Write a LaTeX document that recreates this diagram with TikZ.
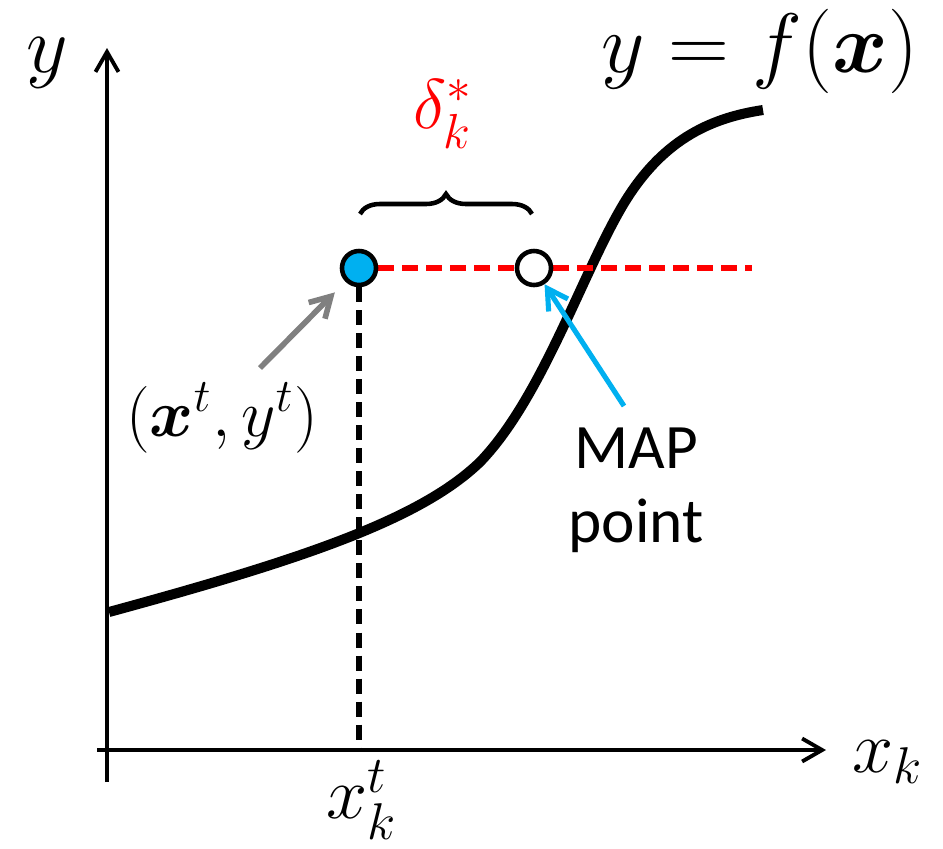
\RequirePackage{fix-cm}
\documentclass[tikz,border=0pt]{standalone}
\usepackage{amsmath,bm}
\usepackage{fontspec}
\setsansfont{Carlito}
\usetikzlibrary{arrows.meta, decorations.pathreplacing, backgrounds, calc}
\definecolor{ptBlue}{RGB}{0,176,240}
\definecolor{lvlRed}{RGB}{255,0,0}
\colorlet{tagGray}{black!50}
\newcommand{\msz}[1]{\fontsize{#1}{#1}\selectfont}

\begin{document}
\begin{tikzpicture}[
  x=0.01cm, y=-0.01cm,
  >={Straight Barb[length=2mm, width=2.3mm]},
  axis/.style={->, line width=1.1pt},
  curve/.style={line width=2.85pt, line join=round},
  level/.style={draw=lvlRed, line width=1.7pt, dash pattern=on 0.16cm off 0.08cm},
  drop/.style={line width=1.5pt, dash pattern=on 0.15cm off 0.08cm},
  dot/.style={circle, draw, line width=1.3pt, minimum size=0.34cm, inner sep=0pt},
  tagArrow/.style={->, line width=1.6pt},
  lab/.style={inner sep=0pt},
]
\useasboundingbox (0,0) rectangle (943,848);

% ── points ───────────────────────────────────────────────────────────────────
\node[dot, fill=ptBlue] (obs) at (359,268) {};
\node[dot, fill=white] (map) at (534,268) {};
\coordinate (lvlEnd) at (752,268);
\coordinate (xt) at (359,750);

% ── axes, curve and guide lines ──────────────────────────────────────────────
\begin{scope}[on background layer]
  \draw[axis] (107,782) -- (107,48);
  \draw[axis] (97,750) -- (826,750);
  \draw[curve] (109,612) .. controls (300,560) and (420,520) .. (480,462)
    .. controls (540,400) and (580,280) .. (620,210)
    .. controls (660,140) and (710,118) .. (763,110);
  \draw[level] (obs) -- (map);
  \draw[level] (map) -- (lvlEnd);
  \draw[drop] (obs) -- (xt);
\end{scope}

\draw[decorate, decoration={brace, amplitude=0.2cm}, line width=1.3pt]
  ($(obs)+(1,-54)$) -- ($(map)+(-2,-54)$);

% ── labels ───────────────────────────────────────────────────────────────────
\node[lab, font=\msz{23}] (ylab) at (47,63) {$y$};
\node[lab, font=\msz{24}, anchor=base] (fx) at (760,72) {$y = f(\bm{x})$};
\node[lab, font=\msz{20}, text=lvlRed] (gap) at (443,114) {$\delta_k^*$};
\node[lab, font=\msz{19}] (ptlab) at (222,418) {$(\bm{x}^t, y^t)$};
\node[lab, font=\sffamily\fontsize{18}{21}\selectfont, align=center] (maplab) at (636,490) {MAP\\point};
\node[lab, font=\msz{21}] (xlab) at (888,762) {$x_k$};
\node[lab, font=\msz{21}] (xtlab) at (362,800) {$x_k^t$};

\coordinate (ptTail) at (260,368);
\coordinate (mapTail) at (624,406);
\draw[tagArrow, draw=tagGray, shorten >=0.15cm] (ptTail) -- (obs);
\draw[tagArrow, draw=ptBlue, line width=1.45pt] (mapTail) -- (map);

\end{tikzpicture}
\end{document}
